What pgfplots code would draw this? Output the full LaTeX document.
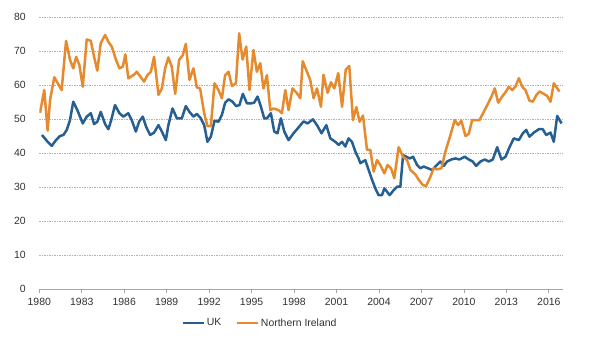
\documentclass[border=0pt]{standalone}
\usepackage{pgfplots}
\pgfplotsset{compat=1.18}
\usepackage{fontspec}
\setmainfont{Liberation Sans}
\definecolor{ukblue}{RGB}{38,96,146}
\definecolor{niorange}{RGB}{230,138,46}
\definecolor{txt}{RGB}{50,50,50}
\begin{document}
\begin{tikzpicture}
\useasboundingbox (-39.3bp,-51bp) rectangle (556.7bp,289bp);
\begin{axis}[
  at={(0,0)}, anchor=south west,
  width=523.7bp, height=272bp, scale only axis,
  xmin=1980, xmax=2017, ymin=0, ymax=80,
  xtick={1980,1983,...,2016}, ytick={0,10,...,80},
  axis x line*=bottom, axis y line*=left,
  x axis line style={draw=gray!70, line width=0.8pt, -},
  y axis line style={draw=none},
  xtick style={draw=gray!70, line width=0.8pt},
  ytick style={draw=none},
  tick align=outside, major tick length=4bp,
  ymajorgrids, major grid style={draw=gray!60, dash pattern=on 1.5pt off 1pt, line width=0.7pt},
  /pgf/number format/1000 sep={},
  /pgf/number format/assume math mode=true,
  tick label style={font=\fontsize{10.5}{12}\selectfont, text=txt},
  yticklabel style={xshift=-6bp},
  xticklabel style={yshift=-2bp},
  legend style={at={(0.4214,-0.125)}, anchor=center, draw=none, fill=none,
    font=\fontsize{10.5}{12}\selectfont, text=txt, legend columns=2,
    /tikz/every even column/.append style={column sep=12bp}},
  legend image code/.code={\draw[#1, line width=2.5bp] (0bp,0bp) -- (21bp,0bp);},
  every axis plot/.append style={line width=2.5bp, line join=round},
]
\addplot[ukblue, mark=none] coordinates {
(1980.19,45.3)(1980.59,43.3)(1980.88,42.1)(1981.18,43.8)(1981.46,45.0)(1981.70,45.3)(1981.94,46.8)
(1982.17,49.7)(1982.40,55.1)(1982.69,52.6)(1983.07,48.7)(1983.35,50.7)(1983.64,51.7)(1983.87,48.5)
(1984.10,49.2)(1984.34,52.1)(1984.65,48.5)(1984.88,47.0)(1985.07,49.5)(1985.35,54.1)(1985.66,51.7)
(1985.94,50.7)(1986.29,51.7)(1986.53,49.7)(1986.82,46.3)(1987.05,49.2)(1987.31,50.7)(1987.55,47.7)
(1987.83,45.3)(1988.11,46.0)(1988.42,48.2)(1988.66,46.3)(1988.94,43.8)(1989.12,48.2)(1989.41,53.1)
(1989.72,50.2)(1990.07,50.2)(1990.35,53.8)(1990.61,52.1)(1990.89,50.7)(1991.13,51.5)(1991.41,50.2)
(1991.65,48.2)(1991.88,43.3)(1992.12,44.8)(1992.38,49.5)(1992.66,49.2)(1992.90,51.2)(1993.13,54.8)
(1993.37,55.8)(1993.65,55.1)(1993.91,53.8)(1994.14,54.1)(1994.38,57.4)(1994.67,54.6)(1994.95,54.6)
(1995.18,54.8)(1995.42,56.6)(1995.66,53.6)(1995.89,50.2)(1996.08,50.2)(1996.36,51.7)(1996.60,46.3)
(1996.83,45.8)(1997.07,50.2)(1997.31,46.3)(1997.61,43.8)(1997.96,45.8)(1998.27,47.3)(1998.67,49.3)
(1998.95,48.7)(1999.33,49.9)(1999.62,48.2)(1999.94,45.8)(2000.28,48.2)(2000.56,44.3)(2000.91,43.3)
(2001.15,42.4)(2001.39,43.3)(2001.62,41.9)(2001.85,44.3)(2002.09,43.3)(2002.33,40.4)(2002.56,38.4)
(2002.68,37.0)(2003.03,37.9)(2003.27,35.0)(2003.51,32.1)(2003.74,29.6)(2003.97,27.6)(2004.21,27.6)
(2004.38,29.6)(2004.57,28.6)(2004.75,27.6)(2005.04,29.1)(2005.28,30.1)(2005.51,30.1)(2005.70,39.4)
(2005.93,38.9)(2006.17,38.4)(2006.41,38.9)(2006.69,36.5)(2006.92,35.5)(2007.16,36.0)(2007.47,35.5)
(2007.75,35.0)(2008.03,36.2)(2008.34,37.5)(2008.57,36.2)(2008.81,37.5)(2009.12,38.1)(2009.40,38.4)
(2009.68,38.1)(2010.06,38.9)(2010.34,38.1)(2010.62,37.5)(2010.86,36.2)(2011.17,37.5)(2011.47,38.1)
(2011.75,37.5)(2012.04,38.1)(2012.35,41.7)(2012.65,38.1)(2012.94,38.9)(2013.22,41.7)(2013.52,44.3)
(2013.88,43.8)(2014.16,45.8)(2014.40,46.8)(2014.63,44.8)(2014.94,46.0)(2015.29,47.0)(2015.57,47.0)
(2015.81,45.3)(2016.12,46.0)(2016.35,43.3)(2016.59,50.9)(2016.90,48.7)
};
\addlegendentry{UK}
\addplot[niorange, mark=none] coordinates {
(1980.05,51.8)(1980.35,58.5)(1980.59,46.6)(1980.76,55.6)(1981.06,62.3)(1981.58,58.5)(1981.89,73.0)
(1982.17,67.4)(1982.40,64.9)(1982.60,68.3)(1982.83,65.9)(1983.07,59.5)(1983.35,73.4)(1983.64,73.0)
(1983.87,68.3)(1984.10,64.2)(1984.34,72.3)(1984.65,74.7)(1984.88,72.7)(1985.12,71.3)(1985.42,67.4)
(1985.66,64.9)(1985.90,65.4)(1986.08,69.0)(1986.29,62.0)(1986.65,62.9)(1986.89,63.9)(1987.12,62.6)
(1987.40,61.0)(1987.64,62.9)(1987.88,63.9)(1988.11,68.3)(1988.42,57.1)(1988.66,59.0)(1988.89,64.9)
(1989.12,68.1)(1989.36,65.4)(1989.60,57.4)(1989.88,67.4)(1990.14,68.8)(1990.35,72.1)(1990.61,61.5)
(1990.89,64.9)(1991.13,59.3)(1991.36,59.0)(1991.65,51.7)(1991.88,47.9)(1992.12,47.9)(1992.38,60.5)
(1992.66,58.5)(1992.90,56.1)(1993.13,62.9)(1993.37,63.9)(1993.61,59.7)(1993.89,60.5)(1994.12,75.2)
(1994.36,67.5)(1994.62,71.3)(1994.85,58.5)(1995.13,70.3)(1995.37,63.9)(1995.61,66.4)(1995.84,59.0)
(1996.08,62.9)(1996.32,52.6)(1996.55,53.1)(1996.90,52.6)(1997.14,51.7)(1997.38,58.5)(1997.61,52.6)
(1997.89,59.0)(1998.20,57.6)(1998.44,56.1)(1998.61,67.0)(1998.91,63.9)(1999.14,61.5)(1999.38,56.1)
(1999.62,59.0)(1999.90,53.6)(2000.08,63.0)(2000.37,57.7)(2000.61,60.8)(2000.84,59.0)(2001.12,63.5)
(2001.39,53.6)(2001.65,64.5)(2001.90,65.6)(2002.16,49.7)(2002.40,53.5)(2002.63,49.2)(2002.87,51.0)
(2003.15,41.0)(2003.39,40.9)(2003.62,34.5)(2003.86,37.9)(2004.09,36.5)(2004.38,34.0)(2004.61,36.5)
(2004.85,35.5)(2005.08,32.6)(2005.39,41.7)(2005.70,38.9)(2005.98,37.9)(2006.22,35.0)(2006.57,33.7)
(2006.83,32.0)(2007.09,30.6)(2007.33,30.3)(2007.63,33.0)(2007.86,35.5)(2008.10,35.2)(2008.41,35.5)
(2008.69,40.4)(2009.05,45.3)(2009.35,49.7)(2009.59,48.2)(2009.82,49.5)(2010.11,45.0)(2010.34,45.6)
(2010.58,49.7)(2010.86,49.7)(2011.10,49.7)(2011.40,52.1)(2011.71,54.6)(2011.99,57.0)(2012.18,59.0)
(2012.42,54.8)(2012.70,56.6)(2012.96,58.0)(2013.17,59.5)(2013.41,58.5)(2013.64,59.5)(2013.88,62.0)
(2014.12,59.5)(2014.35,58.5)(2014.63,55.4)(2014.87,55.1)(2015.11,57.0)(2015.34,58.1)(2015.64,57.4)
(2015.88,56.8)(2016.12,55.1)(2016.35,60.5)(2016.59,59.0)(2016.75,58.1)
};
\addlegendentry{Northern Ireland}
\end{axis}
\end{tikzpicture}
\end{document}
